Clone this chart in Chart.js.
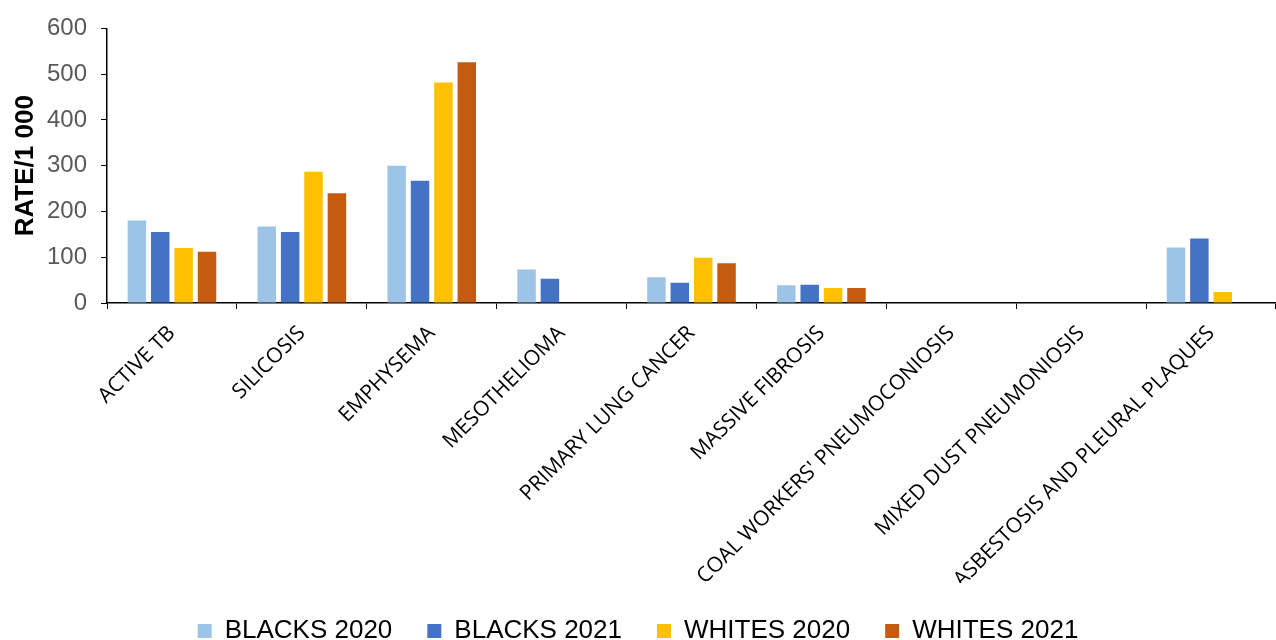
<!DOCTYPE html>
<html>
<head>
<meta charset="utf-8">
<script src="https://cdn.jsdelivr.net/npm/chart.js@4/dist/chart.umd.min.js"></script>
<style>
    html, body { margin: 0; padding: 0; background: #fff; }
    #wrap { width: 1276px; height: 640px; }
</style>
</head>
<body>
<div id="wrap"><canvas id="chart" width="1276" height="640"></canvas></div>
<script>
const categories = [
    'ACTIVE TB', 'SILICOSIS', 'EMPHYSEMA', 'MESOTHELIOMA', 'PRIMARY LUNG CANCER',
    'MASSIVE FIBROSIS', "COAL WORKERS' PNEUMOCONIOSIS", 'MIXED DUST PNEUMONIOSIS',
    'ASBESTOSIS AND PLEURAL PLAQUES'
];
const blacks2020 = [180, 167, 300, 73, 56, 39, 0, 0, 121];
const blacks2021 = [155, 155, 267, 53, 44, 40, 0, 0, 141];
const whites2020 = [120, 287, 482, 0, 99, 33, 0, 0, 24];
const whites2021 = [112, 240, 526, 0, 87, 33, 0, 0, 0];
const yTicks = [0, 100, 200, 300, 400, 500, 600];

const seriesColors = ['#9DC3E6', '#4472C4', '#FFC000', '#C55A11'];

function makeDataset(label, data, color) {
    return {
        label: label,
        data: data,
        backgroundColor: color,
        borderWidth: 0,
        categoryPercentage: 0.72,
        barPercentage: 0.79
    };
}

const ctx = document.getElementById('chart').getContext('2d');
new Chart(ctx, {
    type: 'bar',
    data: {
        labels: categories,
        datasets: [
            makeDataset('BLACKS 2020', blacks2020, seriesColors[0]),
            makeDataset('BLACKS 2021', blacks2021, seriesColors[1]),
            makeDataset('WHITES 2020', whites2020, seriesColors[2]),
            makeDataset('WHITES 2021', whites2021, seriesColors[3])
        ]
    },
    options: {
        responsive: false,
        animation: false,
        layout: { padding: { top: 27, right: 0, left: 0, bottom: -14 } },
        plugins: {
            tooltip: { enabled: false },
            legend: {
                position: 'bottom',
                labels: {
                    color: '#000',
                    font: { family: '"Liberation Sans", Arial', size: 26 },
                    boxWidth: 14,
                    boxHeight: 14,
                    padding: 35
                }
            }
        },
        scales: {
            x: {
                afterFit: scale => { scale.height = 280; },
                border: { color: '#000', width: 1.5 },
                grid: { display: true, drawOnChartArea: false, drawTicks: true, tickLength: 6, color: '#000', offset: true },
                ticks: {
                    color: '#000',
                    font: { family: '"Open Sans"', size: 21 },
                    maxRotation: 45,
                    minRotation: 45,
                    padding: 12,
                    autoSkip: false
                }
            },
            y: {
                min: 0,
                max: 600,
                afterFit: scale => { scale.width = 107; },
                afterBuildTicks: scale => { scale.ticks = yTicks.map(v => ({ value: v })); },
                border: { color: '#000', width: 1.5 },
                grid: { display: true, drawOnChartArea: false, drawTicks: true, tickLength: 6, color: '#000' },
                ticks: {
                    color: '#595959',
                    font: { family: '"Liberation Sans", Arial', size: 24 },
                    padding: 14
                },
                title: {
                    display: true,
                    text: 'RATE/1 000',
                    color: '#000',
                    font: { family: '"Liberation Sans", Arial', size: 26, weight: 'bold' },
                    padding: { top: 10, bottom: 0 }
                }
            }
        }
    }
});
</script>
</body>
</html>
